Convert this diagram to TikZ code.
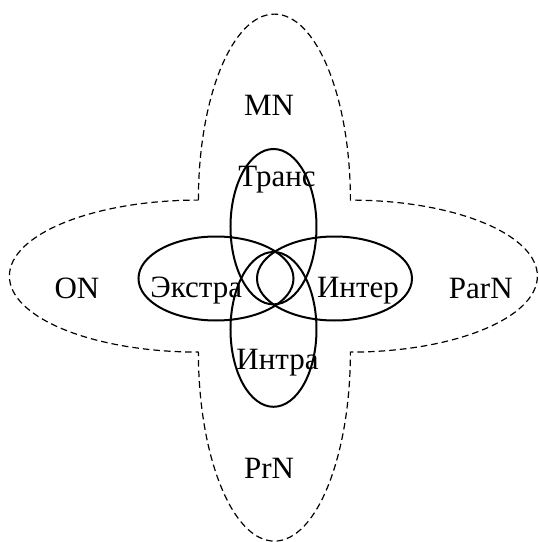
\documentclass[tikz,border=0pt]{standalone}
\usepackage{fontspec}
\setmainfont{Liberation Serif}

\tikzset{
  zone/.style={line width=1pt},
  outer/.style={line width=0.6pt, dash pattern=on 3.3pt off 2pt},
  lbl/.style={anchor=base, inner sep=0pt, font=\fontsize{15.5}{18}\selectfont}
}

\begin{document}
\begin{tikzpicture}[x=0.5pt,y=0.5pt]
\useasboundingbox (-274.4,-265.9) rectangle (263.6,276.1);
\draw [outer] (-76,76)
  arc [start angle=180, end angle=0, x radius=76, y radius=186]
  arc [start angle=90, end angle=-90, x radius=187, y radius=76]
  arc [start angle=0, end angle=-180, x radius=76, y radius=189]
  arc [start angle=270, end angle=90, x radius=189, y radius=76] -- cycle;
\draw [zone] (-58.4,-2.4) ellipse [x radius=77.5, y radius=42];
\draw [zone] (60.1,-2.4) ellipse [x radius=77.5, y radius=42];
\draw [zone] (-0.9,49.4) ellipse [x radius=43, y radius=77.7];
\draw [zone] (-0.9,-53.3) ellipse [x radius=43, y radius=77.4];
\node [lbl] (mn) at (-5.4,161.1) {MN};
\node [lbl] (trans) at (2.6,90.1) {Транс};
\node [lbl] (on) at (-197.4,-21.9) {ON};
\node [lbl] (ekstra) at (-78.1,-20.9) {Экстра};
\node [lbl] (inter) at (83.6,-20.9) {Интер};
\node [lbl] (parn) at (206.4,-21.9) {ParN};
\node [lbl] (intra) at (3.1,-93.2) {Интра};
\node [lbl] (prn) at (-5.4,-202.6) {PrN};
\end{tikzpicture}
\end{document}
